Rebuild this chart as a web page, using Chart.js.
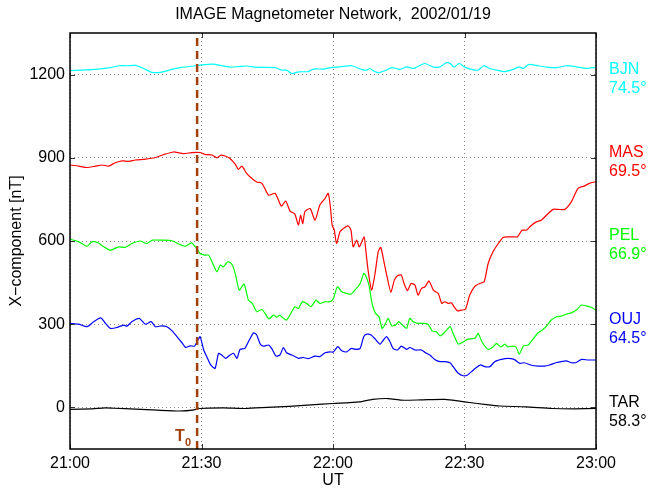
<!DOCTYPE html>
<html>
<head>
<meta charset="utf-8">
<script src="https://cdn.jsdelivr.net/npm/chart.js@4"></script>
<style>
html, body { margin: 0; padding: 0; background: #fff; }
</style>
</head>
<body>
<canvas id="chart" width="649" height="490"></canvas>
<script>
// minutes after 21:00 UT, X-component in nT (offset per station)
const bjnData = [[0,1214],[2.7,1216],[6.5,1220],[8.8,1224],[11.1,1232],[13,1232],[14.9,1233],[16.8,1222],[18.7,1208],[20.9,1209],[23.3,1219],[25.5,1226],[28.6,1232],[30.5,1236],[32.7,1238],[34.6,1232],[36.5,1227],[38.4,1229],[40.3,1231],[42.2,1227],[44.5,1226],[46.8,1225],[48.3,1216],[49.4,1216],[50.6,1204],[52.1,1210],[54.4,1211],[55.5,1220],[57.8,1220],[59.3,1225],[61.6,1228],[64.3,1232],[66.5,1219],[67.7,1216],[68.4,1222],[69.2,1214],[70.3,1206],[71.8,1214],[73.4,1225],[75.3,1219],[76.9,1228],[78.3,1222],[80.9,1240],[82.9,1227],[84.4,1228],[85.9,1243],[86.8,1239],[87.6,1227],[88.8,1240],[90.1,1227],[91.6,1219],[93.1,1216],[94.4,1232],[95.8,1222],[97.3,1216],[99.2,1211],[101.1,1219],[102.4,1228],[103.4,1222],[104.7,1237],[106.4,1233],[108.7,1227],[111,1225],[113.2,1232],[115.5,1228],[117.8,1222],[120,1226]];

const masData = [[0,874],[2,870],[3.9,865],[5.8,870],[7.3,874],[8.8,870],[10.3,882],[11.9,889],[13.4,887],[14.9,892],[17.2,895],[19.5,901],[21.4,912],[23.6,921],[25.9,915],[27.8,919],[29.7,919],[30.8,912],[32.4,910],[33.5,900],[34.5,910],[36.2,901],[37.7,877],[38.4,858],[39.2,870],[40.3,844],[41.1,831],
  [42.6,813],[43.8,808],[45.3,765],[46.8,772],[48.2,726],[49.2,744],[50.2,708],[51.3,697],[52.1,657],[52.6,693],[53.1,663],[53.6,706],[54.8,717],[55.9,675],[57,730],[58.2,754],[58.9,772],[59.4,724],[59.8,657],[60.3,639],[60.8,591],[61.6,633],[62.6,648],[63.5,654],[64.1,639],[64.6,579],[65.4,603],[66,579],[67.1,615],[67.4,579],[68,495],[68.8,423],[69.6,483],[70.3,561],[70.9,577],[71.7,519],[72.5,459],[73.2,415],[74,459],[74.7,475],[75.6,477],[76.2,447],[77,421],[77.8,447],[78.7,441],[79.4,405],[80.2,429],
  [81,435],[81.9,456],[82.9,423],[84,411],[84.8,375],[85.5,381],[86.3,375],[87,377],[87.6,363],[88.4,348],[89.3,351],[90.2,353],[91.2,405],[92.4,437],[93.5,447],[94.5,453],[95.4,519],[96.5,561],[97.7,591],[98.8,613],[99.9,615],[101.1,615],[102.1,615],[103.1,639],[104.1,639],[105.1,654],[106.4,669],[107.5,675],[108.7,693],[110.2,714],[111.3,714],[112.9,714],[114.4,742],[115.9,790],[117.3,798],[118.5,808],[120,814]];

const pelData = [[0,607],[2,597],[3.9,581],[5,597],[6.5,593],[7.7,579],[9.2,567],[11.1,579],[12.6,577],[14.1,591],[16,600],[17.5,591],[18.8,603],[20.9,603],[23.3,601],[24.8,589],[26.3,581],[27.7,593],[28.6,579],[29.7,555],[30.7,549],[31.6,549],[32.4,525],[33.5,489],[34.3,513],[35,507],[36,525],[36.9,517],[37.7,483],[38.6,423],[39.7,445],[40.7,387],
  [41.6,375],[42.6,345],[43.8,353],[44.5,339],[45.4,319],[46.4,333],[47.2,325],[47.8,333],[48.7,321],[49.4,315],[50.6,345],[51.3,363],[52.1,357],[53,381],[54,375],[55,363],[56.1,387],[57,375],[58.2,381],[59.3,381],[60.1,393],[61,435],[62,417],[63.1,411],[64.1,408],[65,423],[66.2,447],[67,483],[67.4,477],[68.2,441],[68.9,375],[69.7,339],[70.5,327],[71.2,285],[71.8,297],[72.6,321],[73.4,294],[74.3,297],[75,309],[75.8,297],[76.8,285],[77.5,321],[78.3,309],[79.4,303],[80.6,303],
  [81.7,300],[82.6,276],[83.6,273],[84.4,258],[85.4,269],[86.7,291],[87.4,267],[88.6,228],[89.7,236],[90.8,246],[92.4,249],[93.1,267],[94,236],[95.4,209],[96.5,218],[97.3,231],[98.3,218],[99.2,228],[99.9,218],[101.1,221],[101.8,216],[102.5,192],[103.4,221],[104.5,225],[105.6,245],[106.8,269],[107.9,281],[108.9,297],[109.8,315],[111,327],[112.1,329],[113.2,336],[114.4,341],[115.5,351],[116.7,369],[117.8,366],[119,360],[120,351]];

const oujData = [[0,303],[2,300],[3.9,291],[5.4,309],[7,323],[8.1,303],[9.2,285],[10.7,288],[12.2,297],[13,293],[14.1,309],[15.8,321],[17.2,300],[18.5,309],[19.5,291],[20.9,294],[22.1,291],[23.3,276],[24.4,255],[25.5,234],[26.4,216],[27.4,222],[28.4,221],[29.2,243],[29.7,255],[30.5,207],[31.2,183],[32.1,153],[33.1,141],[33.9,195],[34.6,189],[35.5,177],[36.5,189],[37.3,195],[38.1,177],[38.8,209],[39.9,213],
  [40.9,243],[41.9,269],[42.6,261],[43.4,228],[44.1,221],[45.3,225],[46,213],[47,185],[47.9,189],[48.7,216],[49.4,197],[50.6,189],[52.1,177],[53.2,180],[54.4,176],[55.9,185],[57,183],[58.2,197],[59.3,200],[60.1,200],[61.1,219],[62,204],[63.1,200],[64.2,213],[65.2,209],[66.2,213],[67,255],[67.7,264],[68.7,261],[69.7,245],[70.7,228],[71.5,243],[72.2,255],[73,237],[73.7,213],[74.7,207],[75.6,221],[76.8,209],[77.5,216],[78.7,207],[80.2,207],
  [81,198],[82.1,189],[83.2,173],[84.4,165],[85.5,165],[86.7,161],[87.4,147],[88.6,123],[89.7,114],[90.7,117],[91.6,129],[92.7,144],[93.7,153],[94.6,147],[95.8,147],[96.9,165],[98.4,173],[99.9,177],[101.3,173],[102.6,159],[103.7,161],[105.1,153],[106.8,149],[108.3,149],[109.4,153],[111,162],[112.1,165],[113.2,168],[114.4,161],[115.5,162],[116.7,173],[118.2,171],[120,171]];

const tarData = [[0,-7],[5,-5],[8,-2],[10,-3],[15,-6],[20,-10],[25,-13],[28,-10],[29.5,-4],[35,-2],[40,-4],[45,0],[50,4],[55,9],[60,14],[66,20],[69,29],[72.6,32],[75.6,26],[80,27],[85.5,29],[90,20],[95,10],[98,5],[104,2],[110,-4],[115,-5],[120,-4]];

const stationNames = ['BJN', 'MAS', 'PEL', 'OUJ', 'TAR'];
const stationLats = ['74.5°', '69.5°', '66.9°', '64.5°', '58.3°'];
const stationColors = ['#00ffff', '#ff0000', '#00ff00', '#0000ff', '#000000'];
const stationBase = [1200, 900, 600, 300, 0];
const stationSeries = [bjnData, masData, pelData, oujData, tarData];

const t0Minute = 29;
const xTicks = [0, 30, 60, 90, 120];
const xTickLabels = ['21:00', '21:30', '22:00', '22:30', '23:00'];
const yTicks = [0, 300, 600, 900, 1200];
const yTickLabels = ['0', '300', '600', '900', '1200'];

const FONT = '"Liberation Sans", Arial, Helvetica, sans-serif';
const T0_COLOR = '#a3400c';

const datasets = [{
    label: 'T0',
    data: [{ x: t0Minute, y: -150 }, { x: t0Minute, y: 1350 }],
    borderColor: T0_COLOR,
    borderWidth: 2.5,
    borderDash: [8, 5],
    tension: 0
}];
stationSeries.forEach((s, i) => {
    datasets.push({
        label: stationNames[i],
        data: s.map(p => ({ x: p[0], y: p[1] })),
        borderColor: stationColors[i],
        borderWidth: 1.2,
        tension: 0.2
    });
});

const decorations = {
    id: 'decorations',
    afterDraw(chart) {
        const c = chart.ctx;
        const a = chart.chartArea;
        const xs = chart.scales.x, ys = chart.scales.y;
        c.save();

        // inward tick marks
        c.strokeStyle = '#333';
        c.lineWidth = 1;
        c.beginPath();
        yTicks.forEach(v => {
            const py = Math.round(ys.getPixelForValue(v)) + 0.5;
            c.moveTo(a.left, py); c.lineTo(a.left + 5, py);
            c.moveTo(a.right, py); c.lineTo(a.right - 5, py);
        });
        xTicks.forEach(v => {
            const px = Math.round(xs.getPixelForValue(v)) + 0.5;
            c.moveTo(px, a.bottom); c.lineTo(px, a.bottom - 5);
            c.moveTo(px, a.top); c.lineTo(px, a.top + 5);
        });
        c.stroke();

        // frame
        c.strokeStyle = '#000';
        c.lineWidth = 1.5;
        c.strokeRect(a.left, a.top, a.right - a.left, a.bottom - a.top);

        // title and axis titles
        c.fillStyle = '#000';
        c.font = '16px ' + FONT;
        c.textAlign = 'center';
        c.textBaseline = 'middle';
        c.fillText('IMAGE Magnetometer Network,  2002/01/19', (a.left + a.right) / 2, 15);
        c.fillText('UT', (a.left + a.right) / 2, 481);
        c.save();
        c.translate(17, (a.top + a.bottom) / 2);
        c.rotate(-Math.PI / 2);
        c.fillText('X\u2212component [nT]', 0, 0);
        c.restore();

        // station labels
        c.textAlign = 'left';
        c.font = '16px ' + FONT;
        stationNames.forEach((n, i) => {
            const py = ys.getPixelForValue(stationBase[i]);
            c.fillStyle = stationColors[i];
            c.fillText(n, a.right + 13, py - 5);
            c.fillText(stationLats[i], a.right + 13, py + 14);
        });

        // T0 label
        c.fillStyle = T0_COLOR;
        c.font = 'bold 16px ' + FONT;
        c.textAlign = 'left';
        c.fillText('T', 175, 437);
        c.font = 'bold 11px ' + FONT;
        c.fillText('0', 185, 443);
        c.restore();
    }
};

new Chart(document.getElementById('chart'), {
    type: 'line',
    data: { datasets },
    options: {
        responsive: false,
        animation: false,
        layout: { padding: { left: 0, right: 53, top: 33, bottom: 0 } },
        plugins: { legend: { display: false }, tooltip: { enabled: false } },
        elements: { point: { radius: 0 } },
        scales: {
            x: {
                type: 'linear',
                min: 0,
                max: 120,
                afterBuildTicks: s => { s.ticks = xTicks.map(v => ({ value: v })); },
                afterFit: s => { s.height = 41; },
                ticks: {
                    callback: (v, i) => xTickLabels[i],
                    color: '#000',
                    font: { family: FONT, size: 16 },
                    padding: 5,
                    maxRotation: 0,
                    autoSkip: false
                },
                grid: { color: '#8a8a8a', lineWidth: 1, drawTicks: false },
                border: { display: false, dash: [1, 3] }
            },
            y: {
                type: 'linear',
                min: -150,
                max: 1350,
                afterBuildTicks: s => { s.ticks = yTicks.map(v => ({ value: v })); },
                afterFit: s => { s.width = 70; },
                ticks: {
                    callback: (v, i) => yTickLabels[i],
                    color: '#000',
                    font: { family: FONT, size: 16 },
                    padding: 5
                },
                grid: { color: '#8a8a8a', lineWidth: 1, drawTicks: false },
                border: { display: false, dash: [1, 3] }
            }
        }
    },
    plugins: [decorations]
});
</script>
</body>
</html>
